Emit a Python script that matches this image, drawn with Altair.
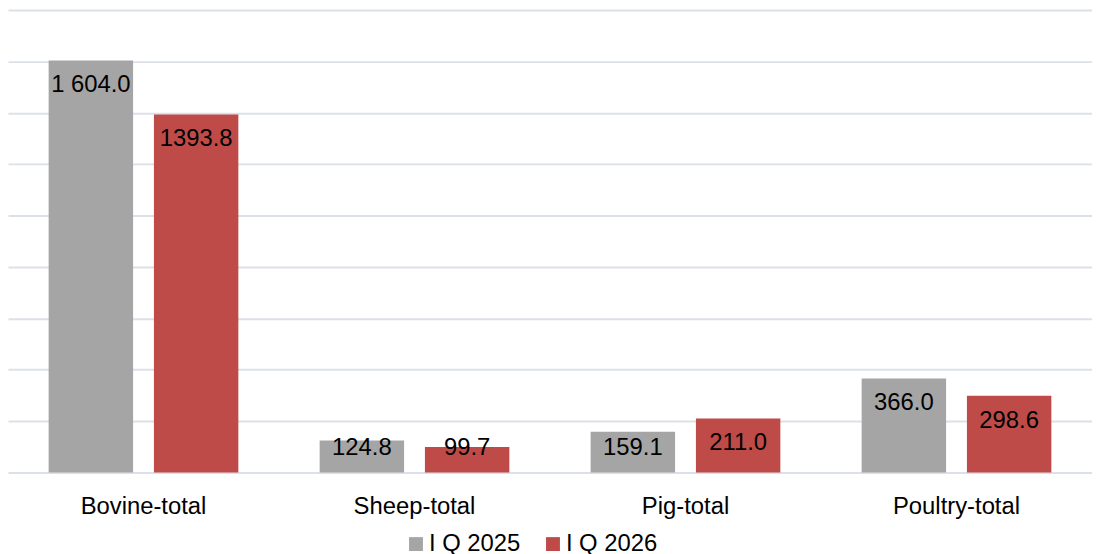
import altair as alt
import pandas as pd

categories = ["Bovine-total", "Sheep-total", "Pig-total", "Poultry-total"]
series = ["I Q 2025", "I Q 2026"]
q2025 = [1604.0, 124.8, 159.1, 366.0]
q2026 = [1393.8, 99.7, 211.0, 298.6]
labels2025 = ["1 604.0", "124.8", "159.1", "366.0"]
labels2026 = ["1393.8", "99.7", "211.0", "298.6"]
colors = ["#A5A5A5", "#BE4B48"]
grid_values = [0, 200, 400, 600, 800, 1000, 1200, 1400, 1600, 1800]

rows = []
for c, v, l in zip(categories, q2025, labels2025):
    rows.append({"cat": c, "series": series[0], "value": v, "label": l})
for c, v, l in zip(categories, q2026, labels2026):
    rows.append({"cat": c, "series": series[1], "value": v, "label": l})
df = pd.DataFrame(rows)

FONT = "Liberation Sans"
FS = 24

x_scale = alt.Scale(paddingInner=0.30, paddingOuter=0.15)
y_scale = alt.Scale(domain=[0, 1800], nice=False)
x_axis = alt.Axis(
    title=None, labelAngle=0, labelFontSize=FS, labelPadding=22,
    ticks=False, domain=False, grid=False, labelColor="black", labelFont=FONT,
)
y_axis = alt.Axis(
    values=grid_values, title=None, labels=False, ticks=False, domain=False,
    grid=True, gridColor="#DCE0E8", gridWidth=2,
)
xoff = alt.XOffset("series:N", sort=series, scale=alt.Scale(paddingInner=0.198))

base = alt.Chart(df)

bars = base.mark_bar().encode(
    x=alt.X("cat:N", sort=categories, scale=x_scale, axis=x_axis),
    xOffset=xoff,
    y=alt.Y("value:Q", scale=y_scale, axis=y_axis),
    color=alt.Color(
        "series:N",
        sort=series,
        scale=alt.Scale(domain=series, range=colors),
        legend=alt.Legend(
            title=None, orient="none", legendX=399, legendY=526, direction="horizontal",
            symbolType="square", symbolSize=196, symbolStrokeWidth=0,
            labelFontSize=FS, labelFont=FONT, labelColor="black",
            columnPadding=20, labelOffset=1, padding=0,
        ),
    ),
)

text = base.transform_calculate(
    labY="max(datum.value, 193)"
).mark_text(
    fontSize=FS, font=FONT, color="black", baseline="middle", dy=25
).encode(
    x=alt.X("cat:N", sort=categories, scale=x_scale, axis=x_axis),
    xOffset=xoff,
    y=alt.Y("labY:Q", scale=y_scale, axis=y_axis),
    text="label:N",
)

chart = (
    alt.layer(bars, text)
    .properties(
        width=1092, height=466, background="white",
        padding={"left": 0, "top": 0, "right": 0, "bottom": 0},
    )
    .configure_view(strokeWidth=0, stroke="transparent")
    .configure_axis(domain=False)
)

chart.save("out.html", embed_options={"renderer": "svg", "actions": False})
